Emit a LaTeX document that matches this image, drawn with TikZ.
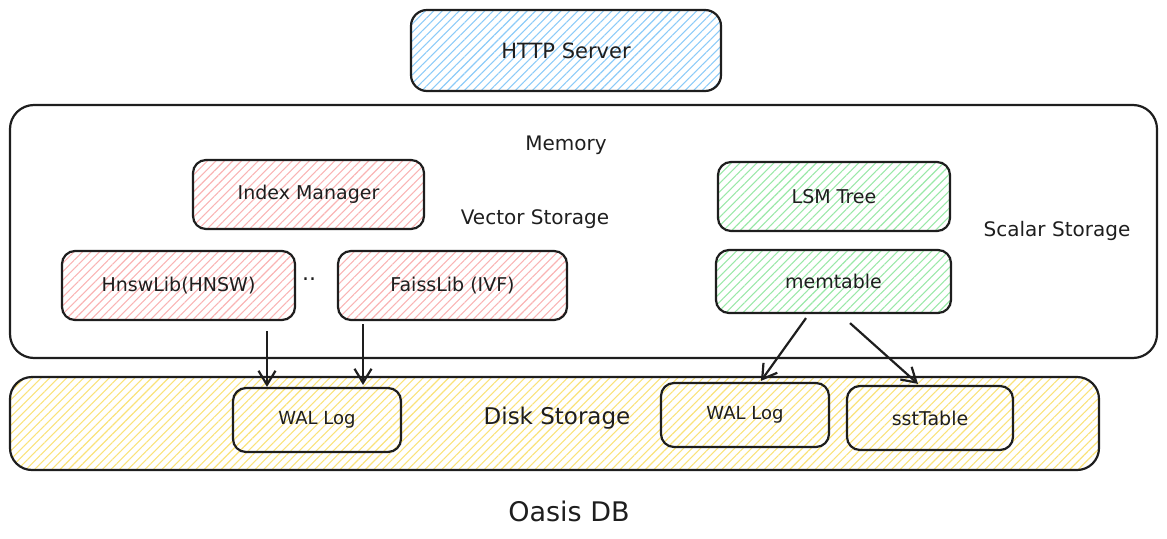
\documentclass[tikz,border=0pt]{standalone}
\usepackage{fontspec}
\setmainfont{DejaVu Sans}
\usetikzlibrary{patterns.meta,arrows.meta,calc}
\definecolor{ink}{HTML}{1E1E1E}
\definecolor{hblue}{HTML}{8CCBF8}
\definecolor{hred}{HTML}{F9B4B4}
\definecolor{hgreen}{HTML}{9AE8A8}
\definecolor{hyellow}{HTML}{FAE27A}
\tikzset{
  box/.style={draw=ink, line width=2.2pt, rounded corners=13pt, align=center, text=ink,
    font=\fontsize{19}{23}\selectfont, inner sep=0pt},
  hatch/.style={pattern={Lines[angle=45,distance=6pt,line width=1.1pt]}, pattern color=#1},
  big/.style={draw=ink, line width=2.2pt, rounded corners=24pt, inner sep=0pt},
  lbl/.style={text=ink, font=\fontsize{20}{24}\selectfont, inner sep=0pt},
  arr/.style={draw=ink, line width=2.2pt, -{Straight Barb[length=14pt,width=17pt,line width=2.2pt]}},
}
\begin{document}
\begin{tikzpicture}[x=1pt,y=-1pt]
\useasboundingbox (0,0) rectangle (1167,538);
% containers
\node[big, minimum width=1147pt, minimum height=253pt] (mem) at (583.5,231.5) {};
\node[big, hatch=hyellow, rounded corners=22pt, minimum width=1089pt, minimum height=93pt] (disk) at (554.5,423.5) {};
% top
\node[box, hatch=hblue, rounded corners=16pt, minimum width=310pt, minimum height=81pt, font=\fontsize{21}{25}\selectfont] (http) at (566,50.5) {HTTP Server};
% vector storage
\node[box, hatch=hred, minimum width=231pt, minimum height=69pt] (idx) at (308.5,194.5) {Index Manager};
\node[box, hatch=hred, minimum width=233pt, minimum height=69pt] (hnsw) at (178.5,285.5) {HnswLib(HNSW)};
\node[box, hatch=hred, minimum width=229pt, minimum height=69pt] (faiss) at (452.5,285.5) {FaissLib (IVF)};
% scalar storage
\node[box, hatch=hgreen, minimum width=232pt, minimum height=69pt] (lsm) at (834,196.5) {LSM Tree};
\node[box, hatch=hgreen, minimum width=235pt, minimum height=63pt] (memt) at (833.5,281.5) {memtable};
% disk
\node[box, minimum width=168pt, minimum height=64pt, font=\fontsize{18}{22}\selectfont] (wal1) at (317,420) {WAL Log};
\node[box, minimum width=168pt, minimum height=64pt, font=\fontsize{18}{22}\selectfont] (wal2) at (745,415) {WAL Log};
\node[box, minimum width=166pt, minimum height=64pt] (sst) at (930,418) {sstTable};
% labels
\node[lbl] (lmem) at (566,145) {Memory};
\node[lbl] (lvec) at (535,219) {Vector Storage};
\node[lbl] (lsca) at (1057,231) {Scalar Storage};
\node[lbl, font=\fontsize{23}{27}\selectfont] (ldisk) at (557,418) {Disk Storage};
\node[lbl, font=\fontsize{27}{31}\selectfont] (loasis) at (569,511) {Oasis DB};
\node[lbl, font=\fontsize{22}{26}\selectfont] (ldots) at (309,279) {..};
% arrows
\draw[arr] ($(hnsw.south)+(88.5,10)$) -- ($(wal1.north)+(-50,0)$);
\draw[arr] ($(faiss.south)+(-89.5,3)$) -- ($(wal1.north)+(46,-2)$);
\draw[arr] ($(memt.south)+(-27.5,4)$) -- ($(wal2.north)+(16,-1)$);
\draw[arr] ($(memt.south)+(16.5,9)$) -- ($(sst.north)+(-12,-1)$);
\end{tikzpicture}
\end{document}
